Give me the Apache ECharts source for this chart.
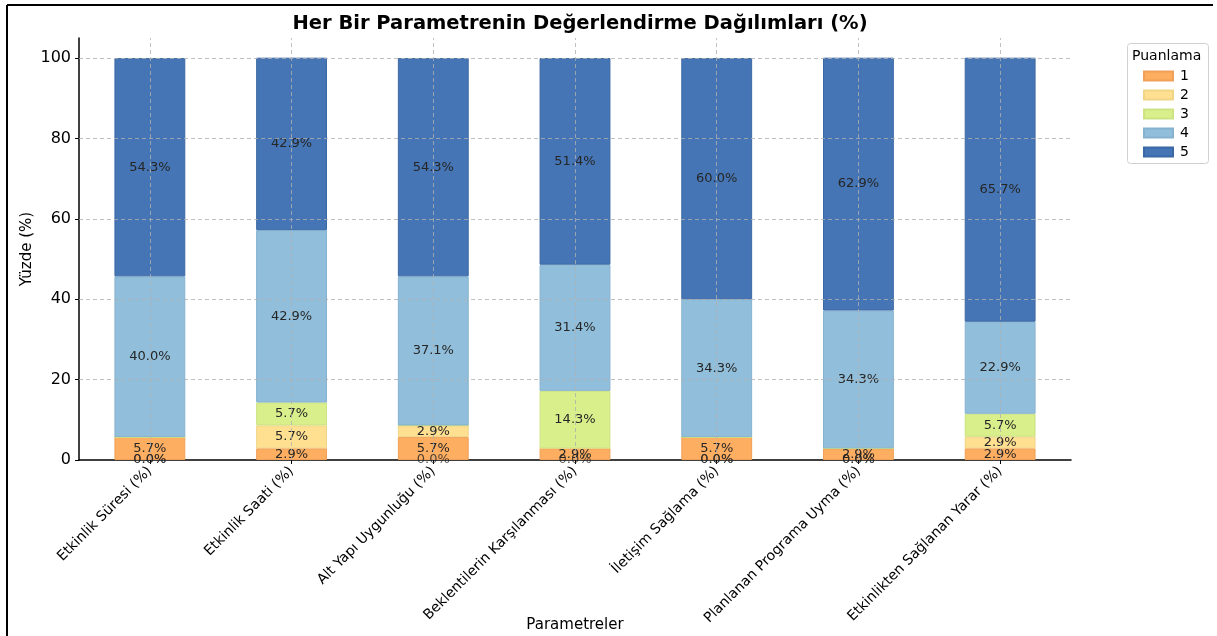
<!DOCTYPE html>
<html>
<head>
<meta charset="utf-8">
<script src="https://cdn.jsdelivr.net/npm/echarts@6/dist/echarts.min.js"></script>
<style>html,body{margin:0;padding:0;background:#fff}#c{width:1217px;height:636px}</style>
</head>
<body>
<div id="c"></div>
<script>
const categories = ["Etkinlik Süresi (%)", "Etkinlik Saati (%)", "Alt Yapı Uygunluğu (%)", "Beklentilerin Karşılanması (%)", "İletişim Sağlama (%)", "Planlanan Programa Uyma (%)", "Etkinlikten Sağlanan Yarar (%)"];
const seriesNames = ["1", "2", "3", "4", "5"];
const score1 = [5.7, 2.9, 5.7, 2.9, 5.7, 2.9, 2.9];
const score2 = [0.0, 5.7, 2.9, 0.0, 0.0, 0.0, 2.9];
const score3 = [0.0, 5.7, 0.0, 14.3, 0.0, 0.0, 5.7];
const score4 = [40.0, 42.9, 37.1, 31.4, 34.3, 34.3, 22.9];
const score5 = [54.3, 42.9, 54.3, 51.4, 60.0, 62.9, 65.7];
const yTicks = [0, 20, 40, 60, 80, 100];

const values = [score1, score2, score3, score4, score5];
const colors = ["#fdae61", "#fee090", "#d9ef8b", "#91bfdb", "#4575b4"];
const borders = ["#f0a058", "#f0d488", "#cde283", "#86b2cf", "#3b68a4"];
const FONT = "DejaVu Sans";

const barSeries = values.map((vals, i) => ({
  name: seriesNames[i],
  type: "bar",
  stack: "total",
  barWidth: "50%",
  data: vals,
  itemStyle: { color: colors[i], borderColor: borders[i], borderWidth: 1 },
  label: {
    show: true,
    position: "inside",
    fontFamily: FONT,
    fontSize: 13,
    color: "#262626",
    formatter: p => p.value === 0 ? "" : p.value.toFixed(1) + "%"
  },
  z: 2
}));

const zeroData = [];
values.forEach(vals => vals.forEach((v, j) => { if (v === 0) zeroData.push([categories[j], 0]); }));

const gridSeries = {
  type: "scatter",
  data: zeroData,
  symbolSize: 0,
  silent: true,
  z: 5,
  label: {
    show: true,
    position: "inside",
    formatter: "0.0%",
    fontFamily: FONT,
    fontSize: 13,
    color: "#262626"
  },
  markLine: {
    silent: true,
    symbol: ["none", "none"],
    label: { show: false },
    lineStyle: { type: [4, 3], color: "#b0b0b0", width: 0.8 },
    z: 4,
    data: yTicks.filter(v => v > 0).map(v => ({ yAxis: v })).concat(categories.map(c => ({ xAxis: c })))
  }
};

const chart = echarts.init(document.getElementById("c"));
chart.setOption({
  animation: false,
  backgroundColor: "#fff",
  textStyle: { fontFamily: FONT },
  title: {
    text: "Her Bir Parametrenin Değerlendirme Dağılımları (%)",
    left: 575, top: 9, textAlign: "center",
    textStyle: { fontFamily: FONT, fontWeight: "bold", fontSize: 19.5, color: "#000" }
  },
  grid: { left: 79, right: 146, top: 38, bottom: 176, containLabel: false, outerBoundsMode: "none" },
  legend: {
    orient: "vertical",
    left: 1138, top: 64,
    icon: "rect",
    itemWidth: 29, itemHeight: 9, itemGap: 5,
    textStyle: { fontFamily: FONT, fontSize: 14, color: "#000", padding: [0, 0, 0, 2] },
    data: seriesNames
  },
  xAxis: {
    type: "category",
    data: categories,
    boundaryGap: true,
    name: "Parametreler",
    nameLocation: "middle",
    nameGap: 158,
    nameMoveOverlap: false,
    nameTextStyle: { fontFamily: FONT, fontSize: 15, color: "#000" },
    axisLine: { lineStyle: { color: "#000", width: 1.5 } },
    axisTick: { show: true, alignWithLabel: true, length: 4, lineStyle: { color: "#000" } },
    axisLabel: { rotate: 45, fontFamily: FONT, fontSize: 14, color: "#000", margin: 9, interval: 0 },
    splitLine: { show: false }
  },
  yAxis: {
    type: "value",
    min: 0, max: 105, interval: 20,
    name: "Yüzde (%)",
    nameLocation: "middle",
    nameGap: 44,
    nameMoveOverlap: false,
    nameTextStyle: { fontFamily: FONT, fontSize: 15, color: "#000" },
    axisLine: { show: true, lineStyle: { color: "#000", width: 1.5 } },
    axisTick: { show: true, length: 4, lineStyle: { color: "#000" }, customValues: yTicks },
    axisLabel: { fontFamily: FONT, fontSize: 16, color: "#000", margin: 8, customValues: yTicks },
    splitLine: { show: false }
  },
  graphic: [
    { type: "line", shape: { x1: 7, y1: 5, x2: 1213, y2: 5 }, style: { stroke: "#000", lineWidth: 2 } },
    { type: "line", shape: { x1: 7, y1: 5, x2: 7, y2: 636 }, style: { stroke: "#000", lineWidth: 2 } },
    { type: "rect", shape: { x: 1127.5, y: 43.5, width: 81, height: 120, r: 3 }, style: { fill: "#fff", stroke: "#d0d0d0", lineWidth: 1 }, z: -1 },
    { type: "text", left: 1132, top: 49, style: { text: "Puanlama", fontFamily: FONT, fontSize: 14, fill: "#000" } }
  ],
  series: barSeries.concat([gridSeries])
});
</script>
</body>
</html>
